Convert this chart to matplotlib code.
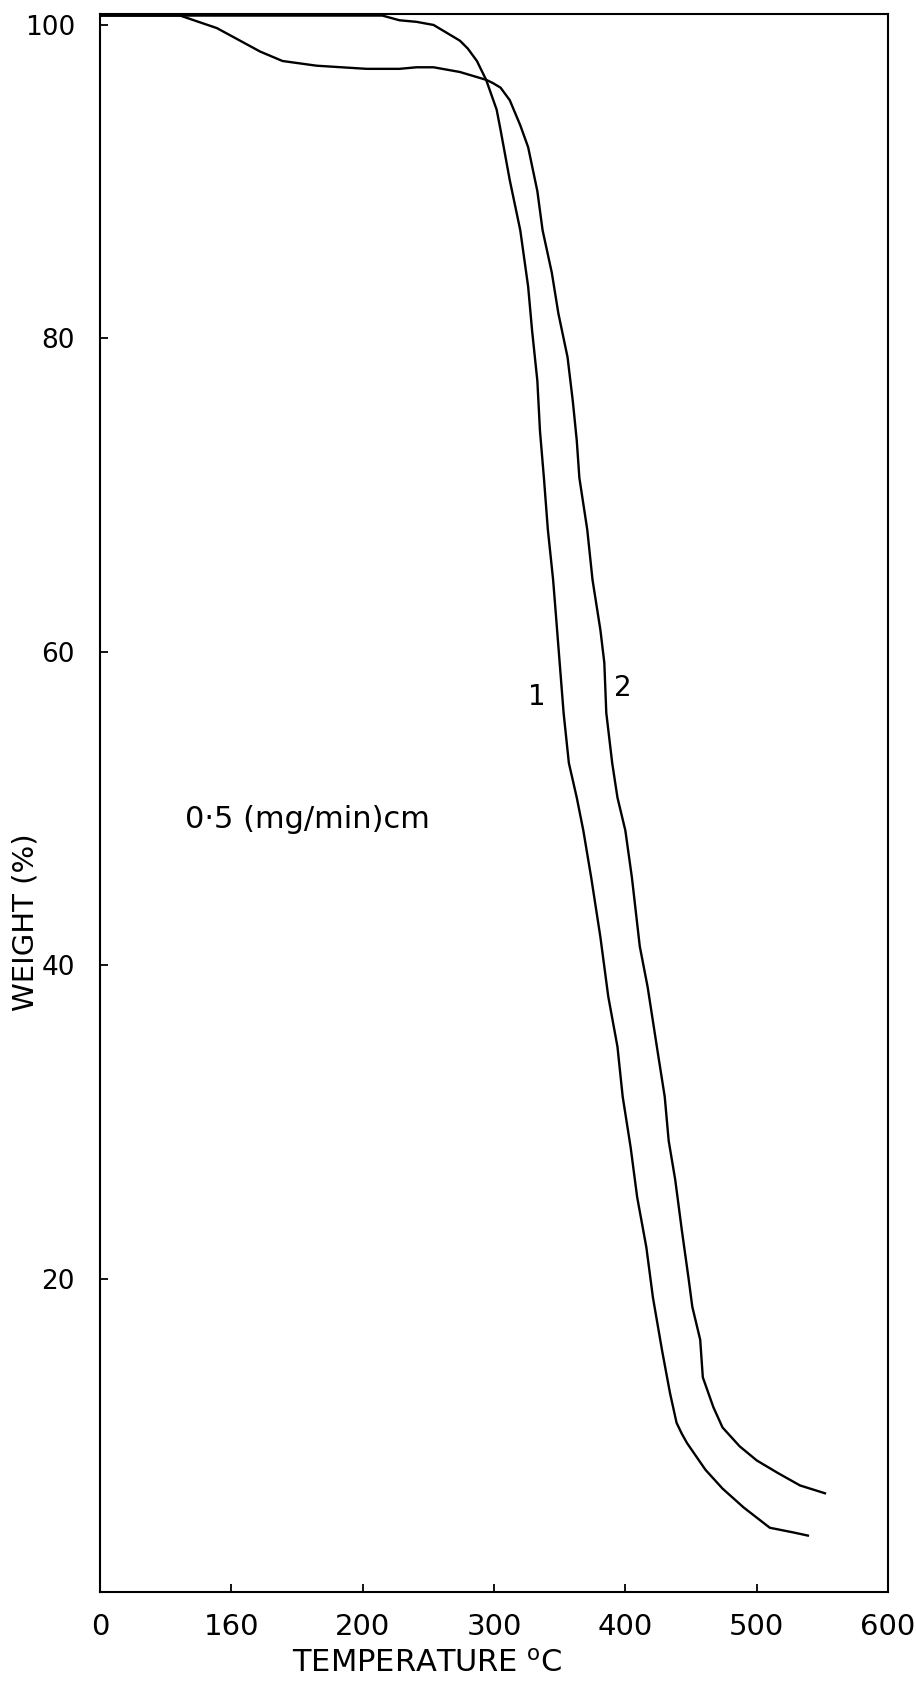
import matplotlib
matplotlib.use("Agg")
import matplotlib.pyplot as plt

# thermogravimetric curves, weight (%) against temperature (deg C)
temp_1 = [0, 114, 215, 228, 241, 254, 264, 274, 280, 287, 294, 302, 305, 312, 320, 326,
          329, 333, 335, 338, 341, 345, 347, 350, 353, 357, 363, 368, 374, 381, 387,
          394, 398, 404, 409, 416, 421, 428, 434, 439, 443, 447, 461, 474, 490, 510,
          528, 539]
weight_1 = [100.6, 100.6, 100.6, 100.3, 100.2, 100.0, 99.5, 99.0, 98.5, 97.7, 96.5, 94.6,
            93.3, 90.1, 86.9, 83.3, 80.5, 77.3, 74.1, 71.1, 67.8, 64.6, 62.5, 59.3, 56.1,
            52.9, 50.7, 48.6, 45.6, 41.8, 38.0, 34.8, 31.6, 28.4, 25.2, 22.0, 18.8, 15.4,
            12.7, 10.8, 10.1, 9.5, 7.8, 6.6, 5.4, 4.1, 3.8, 3.6]

temp_2 = [0, 61, 89, 122, 139, 165, 203, 228, 241, 254, 274, 294, 299, 305, 312, 320,
          326, 333, 337, 344, 349, 356, 360, 363, 365, 371, 375, 381, 384, 385.5, 390,
          394, 400, 405, 411, 417, 424, 430, 433, 438, 443, 448, 451, 457, 459, 467,
          474, 487, 500, 516, 533, 552]
weight_2 = [100.6, 100.6, 99.8, 98.3, 97.7, 97.4, 97.2, 97.2, 97.3, 97.3, 97.0, 96.5,
            96.3, 96.0, 95.2, 93.6, 92.2, 89.4, 86.9, 84.2, 81.6, 78.8, 76.0, 73.5, 71.1,
            67.8, 64.6, 61.4, 59.3, 56.1, 52.9, 50.7, 48.6, 45.6, 41.2, 38.6, 34.8, 31.6,
            28.8, 26.3, 23.1, 20.1, 18.2, 16.1, 13.7, 11.8, 10.5, 9.3, 8.4, 7.6, 6.8, 6.3]

x_ticks = [0, 100, 200, 300, 400, 500, 600]
x_tick_labels = ["0", "160", "200", "300", "400", "500", "600"]
y_ticks = [20, 40, 60, 80, 100]
y_tick_labels = ["20", "40", "60", "80", "100"]

plt.rcParams["font.family"] = "DejaVu Sans"

fig = plt.figure(figsize=(9.16, 16.82), dpi=100)
ax = fig.add_axes([100 / 916, 90 / 1682, 788 / 916, 1578 / 1682])

ax.plot(temp_1, weight_1, color="black", lw=1.7, solid_joinstyle="round")
ax.plot(temp_2, weight_2, color="black", lw=1.7, solid_joinstyle="round")

ax.set_xlim(0, 600)
ax.set_ylim(0, 100.7)
ax.set_xticks(x_ticks)
ax.set_xticklabels(x_tick_labels)
ax.set_yticks(y_ticks)
ax.set_yticklabels(y_tick_labels)

for side in ax.spines.values():
    side.set_linewidth(1.5)

ax.tick_params(axis="both", direction="in", length=6, width=1.3)
ax.tick_params(axis="x", labelsize=21, pad=15)
ax.tick_params(axis="y", labelsize=19, pad=18)

ax.set_ylabel("WEIGHT (%)", fontsize=21)
ax.yaxis.label.set_verticalalignment("center")
ax.yaxis.set_label_coords(-0.094, 0.4246)

# degree mark raised over the unit letter
ax.set_xlabel(r"TEMPERATURE $^{\mathregular{o}}$C", fontsize=22)
ax.xaxis.label.set_verticalalignment("center")
ax.xaxis.set_label_coords(0.415, -0.0450)

# curve numbers and heating-rate note
ax.text(332.7, 57.1, "1", fontsize=20, ha="center", va="center")
ax.text(398.2, 57.7, "2", fontsize=20, ha="center", va="center")
ax.text(64.7, 49.3, "0·5 (mg/min)cm", fontsize=22, ha="left", va="center")

fig.savefig("out.png", dpi=100)
